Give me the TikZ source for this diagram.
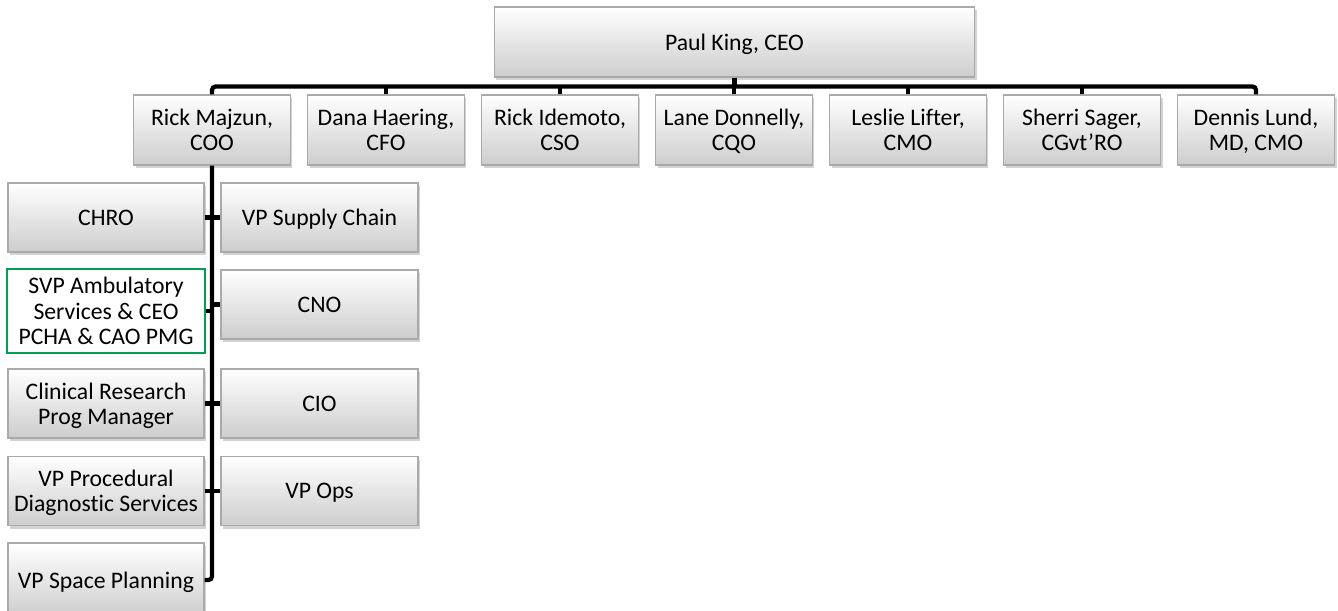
\documentclass[tikz,border=0pt]{standalone}
\usepackage{fontspec}
\setmainfont{Carlito}[Ligatures=NoCommon]
\usetikzlibrary{shadows}
\definecolor{boxline}{RGB}{170,170,170}
\definecolor{boxbottom}{RGB}{205,205,205}
\definecolor{svpgreen}{RGB}{0,160,80}

\begin{document}
\begin{tikzpicture}[x=0.02cm, y=-0.02cm,
	box/.style={rectangle, draw=boxline, line width=0.6pt, align=center, inner sep=0pt,
		text depth=0pt, font=\fontsize{13.5}{14.4}\selectfont},
	shaded/.style={box, top color=white, bottom color=boxbottom,
		drop shadow={shadow xshift=0.04cm, shadow yshift=-0.06cm, opacity=0.35}},
	chief/.style={shaded, minimum width=3.14cm, minimum height=1.4cm},
	leftbox/.style={shaded, minimum width=3.92cm, minimum height=1.38cm},
	rightbox/.style={shaded, minimum width=3.94cm, minimum height=1.38cm},
	svpbox/.style={box, draw=svpgreen, line width=1.2pt, fill=white, minimum width=3.96cm, minimum height=1.68cm},
	link/.style={line width=2.4pt, rounded corners=2pt}]
	\useasboundingbox (0,0) rectangle (1338,610);

	% Top of the chart
	\node[shaded, minimum width=9.62cm, minimum height=1.4cm] (ceo) at (734.5,42) {Paul King, CEO};

	% Direct reports of the CEO
	\node[chief] (coo) at (212,130) {Rick Majzun,\\COO};
	\node[chief] (cfo) at (386,130) {Dana Haering,\\CFO};
	\node[chief] (cso) at (560,130) {Rick Idemoto,\\CSO};
	\node[chief] (cqo) at (734,130) {Lane Donnelly,\\CQO};
	\node[chief] (cmo) at (908,130) {Leslie Lifter,\\CMO};
	\node[chief] (cgvt) at (1082,130) {Sherri Sager,\\CGvt’RO};
	\node[chief] (lund) at (1256,130) {Dennis Lund,\\MD, CMO};

	% Reports of the COO, left column
	\node[leftbox] (chro) at (106,217.5) {CHRO};
	\node[svpbox] (svp) at (106,311) {SVP Ambulatory\\Services \& CEO\\PCHA \& CAO PMG};
	\node[leftbox] (crpm) at (106,403.5) {Clinical Research\\Prog Manager};
	\node[leftbox] (vppd) at (106,491) {VP Procedural\\Diagnostic Services};
	\node[leftbox, minimum height=1.48cm] (vpsp) at (106,580) {VP Space Planning};

	% Reports of the COO, right column
	\node[rightbox] (vpsc) at (319.5,217.5) {VP Supply Chain};
	\node[rightbox] (cno) at (319.5,304.5) {CNO};
	\node[rightbox] (cio) at (319.5,403.5) {CIO};
	\node[rightbox] (vpops) at (319.5,491) {VP Ops};

	% CEO bus
	\draw[link] (ceo.south) -- ++(0,10);
	\draw[link] (coo.north) -- ++(0,-8) -| (lund.north);
	\foreach \n in {cfo,cso,cqo,cmo,cgvt}
		\draw[link] (\n.north) -- ++(0,-8);

	% COO trunk
	\draw[link] (coo.south) |- (vpsp.east);
	\foreach \n in {chro,svp,crpm,vppd}
		\draw[link] (\n.east) -- (\n.east -| coo.south);
	\foreach \n in {vpsc,cno,cio,vpops}
		\draw[link] (\n.west) -- (\n.west -| coo.south);
\end{tikzpicture}
\end{document}
